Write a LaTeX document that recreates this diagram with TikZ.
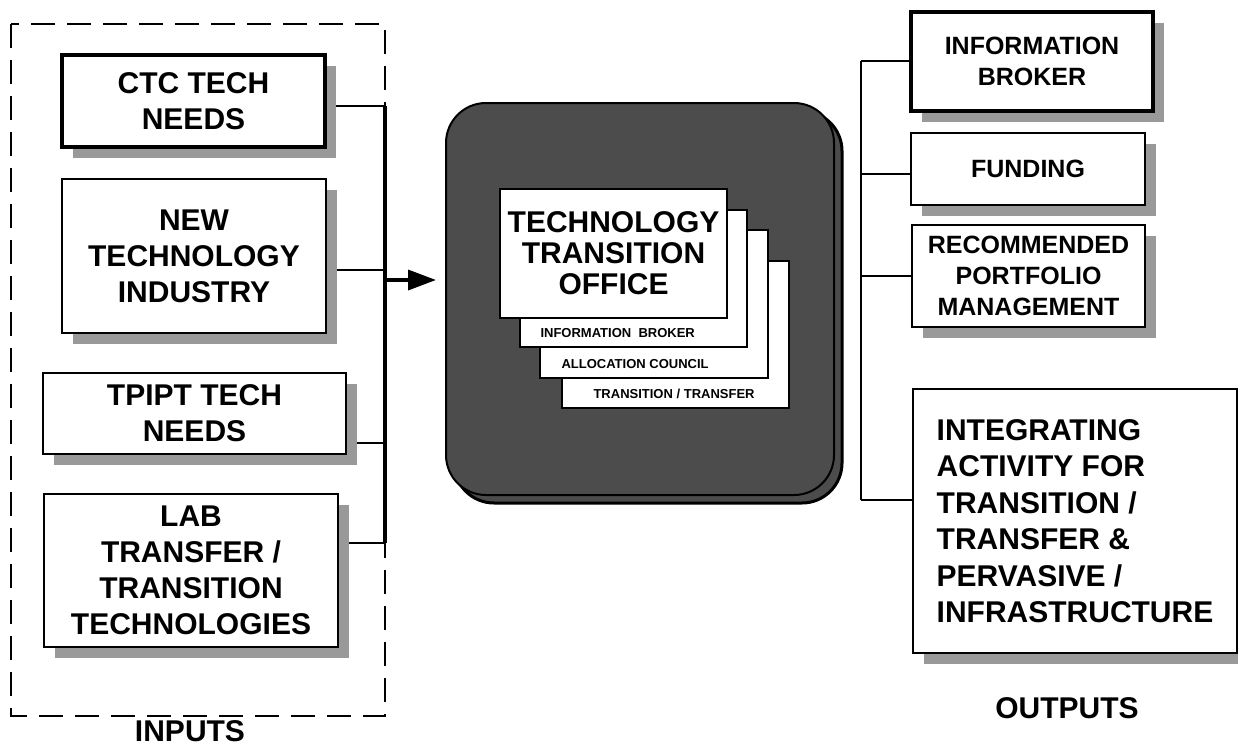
\documentclass[tikz,border=0pt]{standalone}
\usepackage{fontspec}
\setmainfont{Liberation Sans}
\usetikzlibrary{shadows}
\usetikzlibrary{backgrounds}
\usetikzlibrary{arrows.meta}

\begin{document}
\begin{tikzpicture}[x=1pt,y=-1pt,
   big/.style={font=\fontsize{30}{36}\selectfont\bfseries},
   mid/.style={font=\fontsize{25}{31}\selectfont\bfseries},
   tiny/.style={font=\fontsize{13}{15}\selectfont\bfseries},
   box/.style={draw,line width=2pt,fill=white,align=center,inner sep=0pt,
     drop shadow={shadow xshift=11pt,shadow yshift=-11pt,fill=black!40,opacity=1}},
   heavy/.style={line width=3.5pt},
   card/.style={draw,line width=1.5pt,fill=white,inner sep=0pt},
   officebox/.style={draw,line width=2pt,fill=black!70,rounded corners=40pt,
     drop shadow={shadow xshift=8pt,shadow yshift=-8pt,fill=black!70,draw=black,line width=3pt,opacity=1}},
   link/.style={line width=1.8pt}]
\useasboundingbox (0,0) rectangle (1238,747);

% inputs
\draw[line width=1.5pt,dash pattern=on 24pt off 12pt] (11,24) rectangle (385,716);
\node[big] (inputs) at (190,731) {INPUTS};
\node[box,heavy,big,minimum width=263pt,minimum height=92pt] (ctc) at (193.5,101) {CTC TECH\\NEEDS};
\node[box,big,minimum width=264pt,minimum height=154pt] (newtech) at (194,256) {NEW\\TECHNOLOGY\\INDUSTRY};
\node[box,big,minimum width=303pt,minimum height=81pt] (tpipt) at (194.5,413.5) {TPIPT TECH\\NEEDS};
\node[box,big,minimum width=294pt,minimum height=153pt] (lab) at (191,570.5) {LAB\\TRANSFER /\\TRANSITION\\TECHNOLOGIES};

\coordinate (j1) at (385,106);
\coordinate (j2) at (385,270);
\coordinate (j3) at (385,443);
\coordinate (j4) at (385,543);
\coordinate (ja) at (385,280);
\begin{scope}[on background layer]
\foreach \n/\j in {ctc/j1,newtech/j2,tpipt/j3,lab/j4}
  \draw[link] (\j -| \n.east) -- (\j);
\end{scope}
\draw[heavy] (j1) -- (j4);

% office
\node[officebox,minimum width=388pt,minimum height=392pt] (office) at (640,299) {};
\draw[heavy,-{Triangle[length=28pt,width=20pt]}] (ja) -- ([xshift=-9pt]ja -| office.west);
\node[card,minimum width=227pt,minimum height=147pt] (ttcard) at (675.5,334.5) {};
\node[card,minimum width=228pt,minimum height=148pt] (accard) at (654,304) {};
\node[card,minimum width=227pt,minimum height=137pt] (ibcard) at (633.5,278.5) {};
\node[card,line width=2pt,align=center,font=\fontsize{30}{31}\selectfont\bfseries,
   minimum width=227pt,minimum height=129pt] (tto) at (613.5,253.5) {TECHNOLOGY\\TRANSITION\\OFFICE};
\node[tiny,anchor=west] (ibtext) at (537,333) {INFORMATION\ \ BROKER};
\node[tiny,anchor=west] (actext) at (558,364) {ALLOCATION COUNCIL};
\node[tiny,anchor=west] (tttext) at (590,394) {TRANSITION / TRANSFER};

% outputs
\node[box,heavy,mid,minimum width=242pt,minimum height=99pt] (broker) at (1032,61.5) {INFORMATION\\BROKER};
\node[box,mid,minimum width=234pt,minimum height=72pt] (funding) at (1028,169) {FUNDING};
\node[box,mid,minimum width=233pt,minimum height=102pt] (portfolio) at (1028.5,276) {RECOMMENDED\\PORTFOLIO\\MANAGEMENT};
\node[box,align=left,font=\fontsize{30}{36.5}\selectfont\bfseries,
   minimum width=324pt,minimum height=264pt] (integrating) at (1075,521)
   {INTEGRATING\\ACTIVITY FOR\\TRANSITION /\\TRANSFER \&\\PERVASIVE /\\INFRASTRUCTURE};
\node[big] (outputs) at (1067,708) {OUTPUTS};

\coordinate (k1) at (861,61);
\coordinate (k2) at (861,174);
\coordinate (k3) at (861,276);
\coordinate (k4) at (861,500);
\draw[link] (k1) -- (k4);
\foreach \n/\k in {broker/k1,funding/k2,portfolio/k3,integrating/k4}
  \draw[link] (\k) -- (\k -| \n.west);
\end{tikzpicture}
\end{document}
